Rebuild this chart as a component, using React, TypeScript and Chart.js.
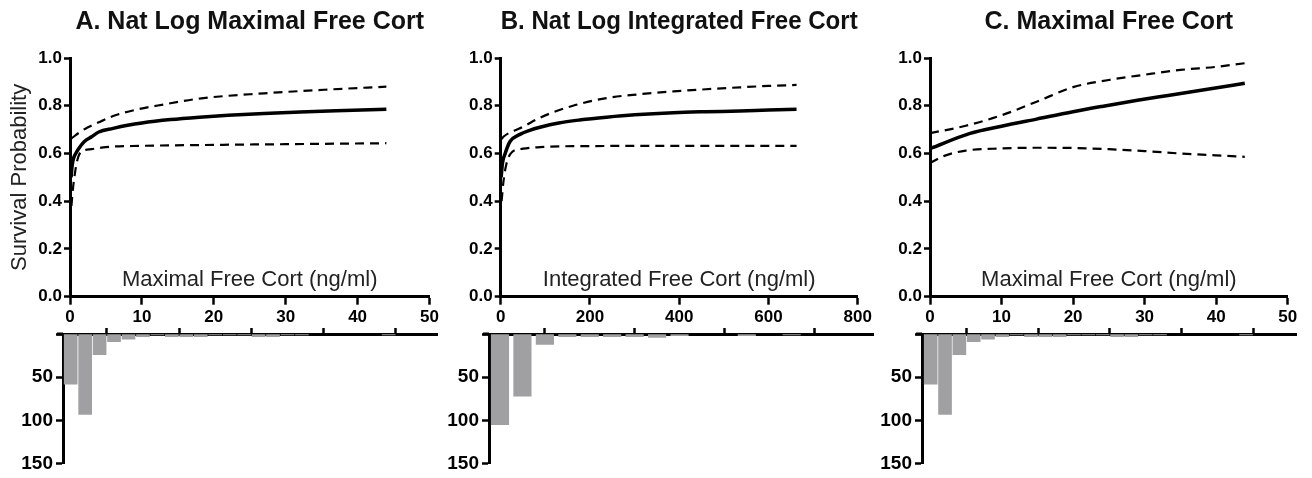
import React, { useEffect, useRef } from 'react';
import { Chart, registerables } from 'chart.js';

Chart.register(...registerables);

const FONT = 'Arial, "Liberation Sans", Helvetica, sans-serif';
Chart.defaults.font.family = FONT;
Chart.defaults.color = '#000';

const W = 1312;
const H = 478;

// ---------- Panel A: Nat Log Maximal Free Cort ----------
const aFitX = [0.15, 0.3, 0.5, 0.8, 1.2, 2, 3, 4, 6, 8, 10, 14, 18, 22, 27, 32, 37, 44];
const aFitY = [0.5, 0.55, 0.58, 0.6, 0.62, 0.65, 0.67, 0.69, 0.705, 0.718, 0.728, 0.742, 0.752, 0.76, 0.768, 0.774, 0.779, 0.785];
const aUpperX = [0.2, 1.4, 2.5, 4.2, 6, 9, 13, 18, 27, 36, 44];
const aUpperY = [0.663, 0.69, 0.71, 0.733, 0.757, 0.782, 0.805, 0.83, 0.852, 0.868, 0.88];
const aLowerX = [0.2, 0.4, 0.7, 1.0, 1.5, 3, 5, 10, 20, 30, 44];
const aLowerY = [0.38, 0.45, 0.52, 0.57, 0.605, 0.618, 0.627, 0.632, 0.636, 0.639, 0.643];
const aXTicks = [0, 10, 20, 30, 40, 50];
const histAX = [0, 2, 4, 6, 8, 10, 12, 14, 16, 18, 20, 22, 24, 26, 28, 30, 32, 44];
const histAY = [58, 93, 24, 9, 6, 3, 1, 3, 3, 3, 1, 1, 1, 3, 3, 1, 1, 1];

// ---------- Panel B: Nat Log Integrated Free Cort ----------
const bFitX = [1, 4, 10, 21, 43, 65, 88, 130, 180, 237, 300, 387, 460, 536, 600, 663];
const bFitY = [0.5, 0.56, 0.6, 0.65, 0.68, 0.697, 0.71, 0.728, 0.741, 0.752, 0.762, 0.771, 0.775, 0.778, 0.782, 0.785];
const bUpperX = [2, 6, 30, 50, 88, 162, 237, 310, 387, 460, 536, 600, 663];
const bUpperY = [0.66, 0.67, 0.695, 0.712, 0.75, 0.8, 0.832, 0.848, 0.86, 0.869, 0.877, 0.883, 0.887];
const bLowerX = [2, 6, 12, 25, 50, 88, 200, 400, 663];
const bLowerY = [0.4, 0.48, 0.55, 0.605, 0.62, 0.627, 0.631, 0.632, 0.632];
const bXTicks = [0, 200, 400, 600, 800];
const histBX = [0, 50, 100, 150, 200, 250, 300, 350, 400, 550, 650];
const histBY = [105, 72, 12, 3, 3, 3, 3, 4, 2, 2, 1];

// ---------- Panel C: Maximal Free Cort ----------
const cFitX = [0, 5.6, 10, 14.9, 20, 24.2, 29, 33.5, 39, 44];
const cFitY = [0.62, 0.684, 0.714, 0.744, 0.775, 0.798, 0.823, 0.844, 0.87, 0.894];
const cUpperX = [0, 5, 10, 15, 20, 25, 30, 35, 40, 44];
const cUpperY = [0.685, 0.716, 0.76, 0.818, 0.878, 0.908, 0.93, 0.95, 0.963, 0.978];
const cLowerX = [0, 2, 5, 10, 15, 20, 25, 30, 35, 40, 44];
const cLowerY = [0.56, 0.59, 0.612, 0.621, 0.624, 0.623, 0.618, 0.61, 0.6, 0.592, 0.586];
const cXTicks = [0, 10, 20, 30, 40, 50];
const histCX = [0, 2, 4, 6, 8, 10, 12, 14, 16, 18, 20, 22, 24, 26, 28, 30, 32, 44];
const histCY = [58, 93, 24, 9, 6, 3, 1, 3, 3, 3, 1, 1, 1, 3, 3, 1, 1, 1];

const yTicksTop = [0, 0.2, 0.4, 0.6, 0.8, 1.0];
const yTicksHist = [0, 50, 100, 150];

const zip = (xs: number[], ys: number[]) => xs.map((x, i) => ({ x, y: ys[i] }));

const PLOT_TOP = 58;
const PLOT_BOTTOM = 296.7;
const HIST_TOP = 334;
const HIST_BOTTOM = 466.7;
const TITLE_SIZE = 25;

const innerTitle = (text: string) => ({
  id: 'innerTitle',
  afterDraw(chart: any) {
    const { ctx, chartArea } = chart;
    ctx.save();
    ctx.font = `22px ${FONT}`;
    ctx.fillStyle = '#222';
    ctx.textAlign = 'center';
    ctx.textBaseline = 'alphabetic';
    ctx.fillText(text, (chartArea.left + chartArea.right) / 2, chartArea.bottom - 10.7);
    ctx.restore();
  },
});

const axisStub = {
  id: 'axisStub',
  afterDraw(chart: any) {
    const { ctx, chartArea } = chart;
    ctx.save();
    ctx.strokeStyle = '#000';
    ctx.lineWidth = 3;
    ctx.beginPath();
    ctx.moveTo(chartArea.left - 6, chartArea.top);
    ctx.lineTo(chartArea.left, chartArea.top);
    ctx.stroke();
    ctx.restore();
  },
};

function topConfig(o: {
  title: string; xLabel: string; yTitle?: string;
  fitX: number[]; fitY: number[]; upX: number[]; upY: number[]; loX: number[]; loY: number[];
  xTicks: number[]; left: number; right: number;
}): any {
  const line = { pointRadius: 0, borderColor: '#000', fill: false, cubicInterpolationMode: 'monotone' };
  const titleLH = TITLE_SIZE * 1.2;
  return {
    type: 'line',
    data: {
      datasets: [
        { ...line, data: zip(o.fitX, o.fitY), borderWidth: 3.5 },
        { ...line, data: zip(o.upX, o.upY), borderWidth: 2.2, borderDash: [9, 6] },
        { ...line, data: zip(o.loX, o.loY), borderWidth: 2.2, borderDash: [9, 6] },
      ],
    },
    options: {
      responsive: false,
      animation: false,
      events: [],
      layout: { padding: { left: o.left - 70, right: W - o.right, top: 0, bottom: H - PLOT_BOTTOM - 30 } },
      plugins: {
        legend: { display: false },
        tooltip: { enabled: false },
        title: {
          display: true, text: o.title, fullSize: false, color: '#111',
          font: { family: FONT, size: TITLE_SIZE, weight: 'bold', lineHeight: 1.2 },
          padding: { top: 22 - titleLH / 2, bottom: PLOT_TOP - (22 + titleLH / 2) },
        },
      },
      scales: {
        x: {
          type: 'linear', min: o.xTicks[0], max: o.xTicks[o.xTicks.length - 1],
          afterBuildTicks: (s: any) => { s.ticks = o.xTicks.map((v) => ({ value: v })); },
          ticks: { color: '#000', font: { family: FONT, size: 17, weight: 'bold', lineHeight: 1.2 }, padding: 2, maxRotation: 0, autoSkip: false },
          grid: { drawOnChartArea: false, tickLength: 8, tickWidth: 2.5, tickColor: '#000' },
          border: { color: '#000', width: 3 },
          afterFit: (s: any) => { s.height = 30; },
        },
        y: {
          type: 'linear', min: 0, max: 1,
          afterBuildTicks: (s: any) => { s.ticks = yTicksTop.map((v) => ({ value: v })); },
          ticks: {
            color: '#000', font: { family: FONT, size: 17, weight: 'bold' }, padding: 2,
            callback: (v: any) => Number(v).toFixed(1),
          },
          grid: { drawOnChartArea: false, tickLength: 6, tickWidth: 2.5, tickColor: '#000' },
          border: { color: '#000', width: 3 },
          title: o.yTitle
            ? { display: true, text: o.yTitle, color: '#222', font: { family: FONT, size: 22, lineHeight: 1.2 }, padding: { top: 7, bottom: 0 } }
            : { display: false },
          afterFit: (s: any) => { s.width = 70; },
        },
      },
    },
    plugins: [innerTitle(o.xLabel)],
  };
}

function histConfig(o: {
  hx: number[]; hy: number[]; xTicks: number[]; axisX: number; zeroX: number; endTickX: number;
  rightX: number; barW: number;
}): any {
  const pxPerUnit = (o.endTickX - o.zeroX) / (o.xTicks[o.xTicks.length - 1] - o.xTicks[0]);
  const xmin = o.xTicks[0] - (o.zeroX - o.axisX) / pxPerUnit;
  const xmax = o.xTicks[o.xTicks.length - 1] + (o.rightX - o.endTickX) / pxPerUnit;
  return {
    type: 'bar',
    data: {
      datasets: [
        { data: zip(o.hx, o.hy), backgroundColor: '#a0a0a2', borderWidth: 0, barThickness: o.barW },
      ],
    },
    options: {
      responsive: false,
      animation: false,
      events: [],
      layout: { padding: { left: o.axisX - 63, right: W - o.rightX, top: HIST_TOP - 10, bottom: H - HIST_BOTTOM } },
      plugins: { legend: { display: false }, tooltip: { enabled: false }, title: { display: false } },
      scales: {
        x: {
          type: 'linear', position: 'top', min: xmin, max: xmax, offset: false, z: 1,
          afterBuildTicks: (s: any) => { s.ticks = o.xTicks.map((v) => ({ value: v })); },
          ticks: { display: false },
          grid: { drawOnChartArea: false, tickLength: 6, tickWidth: 2.5, tickColor: '#000' },
          border: { color: '#000', width: 3 },
          afterFit: (s: any) => { s.height = 10; },
        },
        y: {
          type: 'linear', reverse: true, min: 0, max: 150, z: 1,
          afterBuildTicks: (s: any) => { s.ticks = yTicksHist.map((v) => ({ value: v })); },
          ticks: {
            color: '#000', font: { family: FONT, size: 19, weight: 'bold' }, padding: 3,
            callback: (v: any) => (Number(v) === 0 ? '' : String(v)),
          },
          grid: { drawOnChartArea: false, tickLength: 7, tickWidth: 2.5, tickColor: '#000' },
          border: { color: '#000', width: 3 },
          afterFit: (s: any) => { s.width = 63; },
        },
      },
    },
    plugins: [axisStub],
  };
}

const configs = () => [
  topConfig({
    title: 'A. Nat Log Maximal Free Cort', xLabel: 'Maximal Free Cort (ng/ml)', yTitle: 'Survival Probability',
    fitX: aFitX, fitY: aFitY, upX: aUpperX, upY: aUpperY, loX: aLowerX, loY: aLowerY,
    xTicks: aXTicks, left: 70, right: 429.5,
  }),
  topConfig({
    title: 'B. Nat Log Integrated Free Cort', xLabel: 'Integrated Free Cort (ng/ml)',
    fitX: bFitX, fitY: bFitY, upX: bUpperX, upY: bUpperY, loX: bLowerX, loY: bLowerY,
    xTicks: bXTicks, left: 500.7, right: 857.7,
  }),
  topConfig({
    title: 'C. Maximal Free Cort', xLabel: 'Maximal Free Cort (ng/ml)',
    fitX: cFitX, fitY: cFitY, upX: cUpperX, upY: cUpperY, loX: cLowerX, loY: cLowerY,
    xTicks: cXTicks, left: 930, right: 1287.7,
  }),
  histConfig({ hx: histAX, hy: histAY, xTicks: aXTicks, axisX: 63, zeroX: 70.7, endTickX: 432, rightX: 437, barW: 13 }),
  histConfig({ hx: histBX, hy: histBY, xTicks: bXTicks, axisX: 489, zeroX: 500, endTickX: 859, rightX: 873, barW: 17.5 }),
  histConfig({ hx: histCX, hy: histCY, xTicks: cXTicks, axisX: 922, zeroX: 930.7, endTickX: 1289, rightX: 1296.7, barW: 13 }),
];

function ChartCanvas({ config }: { config: any }) {
  const ref = useRef<HTMLCanvasElement>(null);
  useEffect(() => {
    const chart = new Chart(ref.current as HTMLCanvasElement, config);
    return () => chart.destroy();
  }, [config]);
  return (
    <canvas
      ref={ref}
      width={W}
      height={H}
      style={{ position: 'absolute', left: 0, top: 0, width: W, height: H }}
    />
  );
}

const ALL = configs();

export default function App() {
  return (
    <div style={{ position: 'absolute', left: 0, top: 0, width: W, height: H, background: '#fff', overflow: 'hidden' }}>
      {ALL.map((c, i) => (
        <ChartCanvas key={i} config={c} />
      ))}
    </div>
  );
}
